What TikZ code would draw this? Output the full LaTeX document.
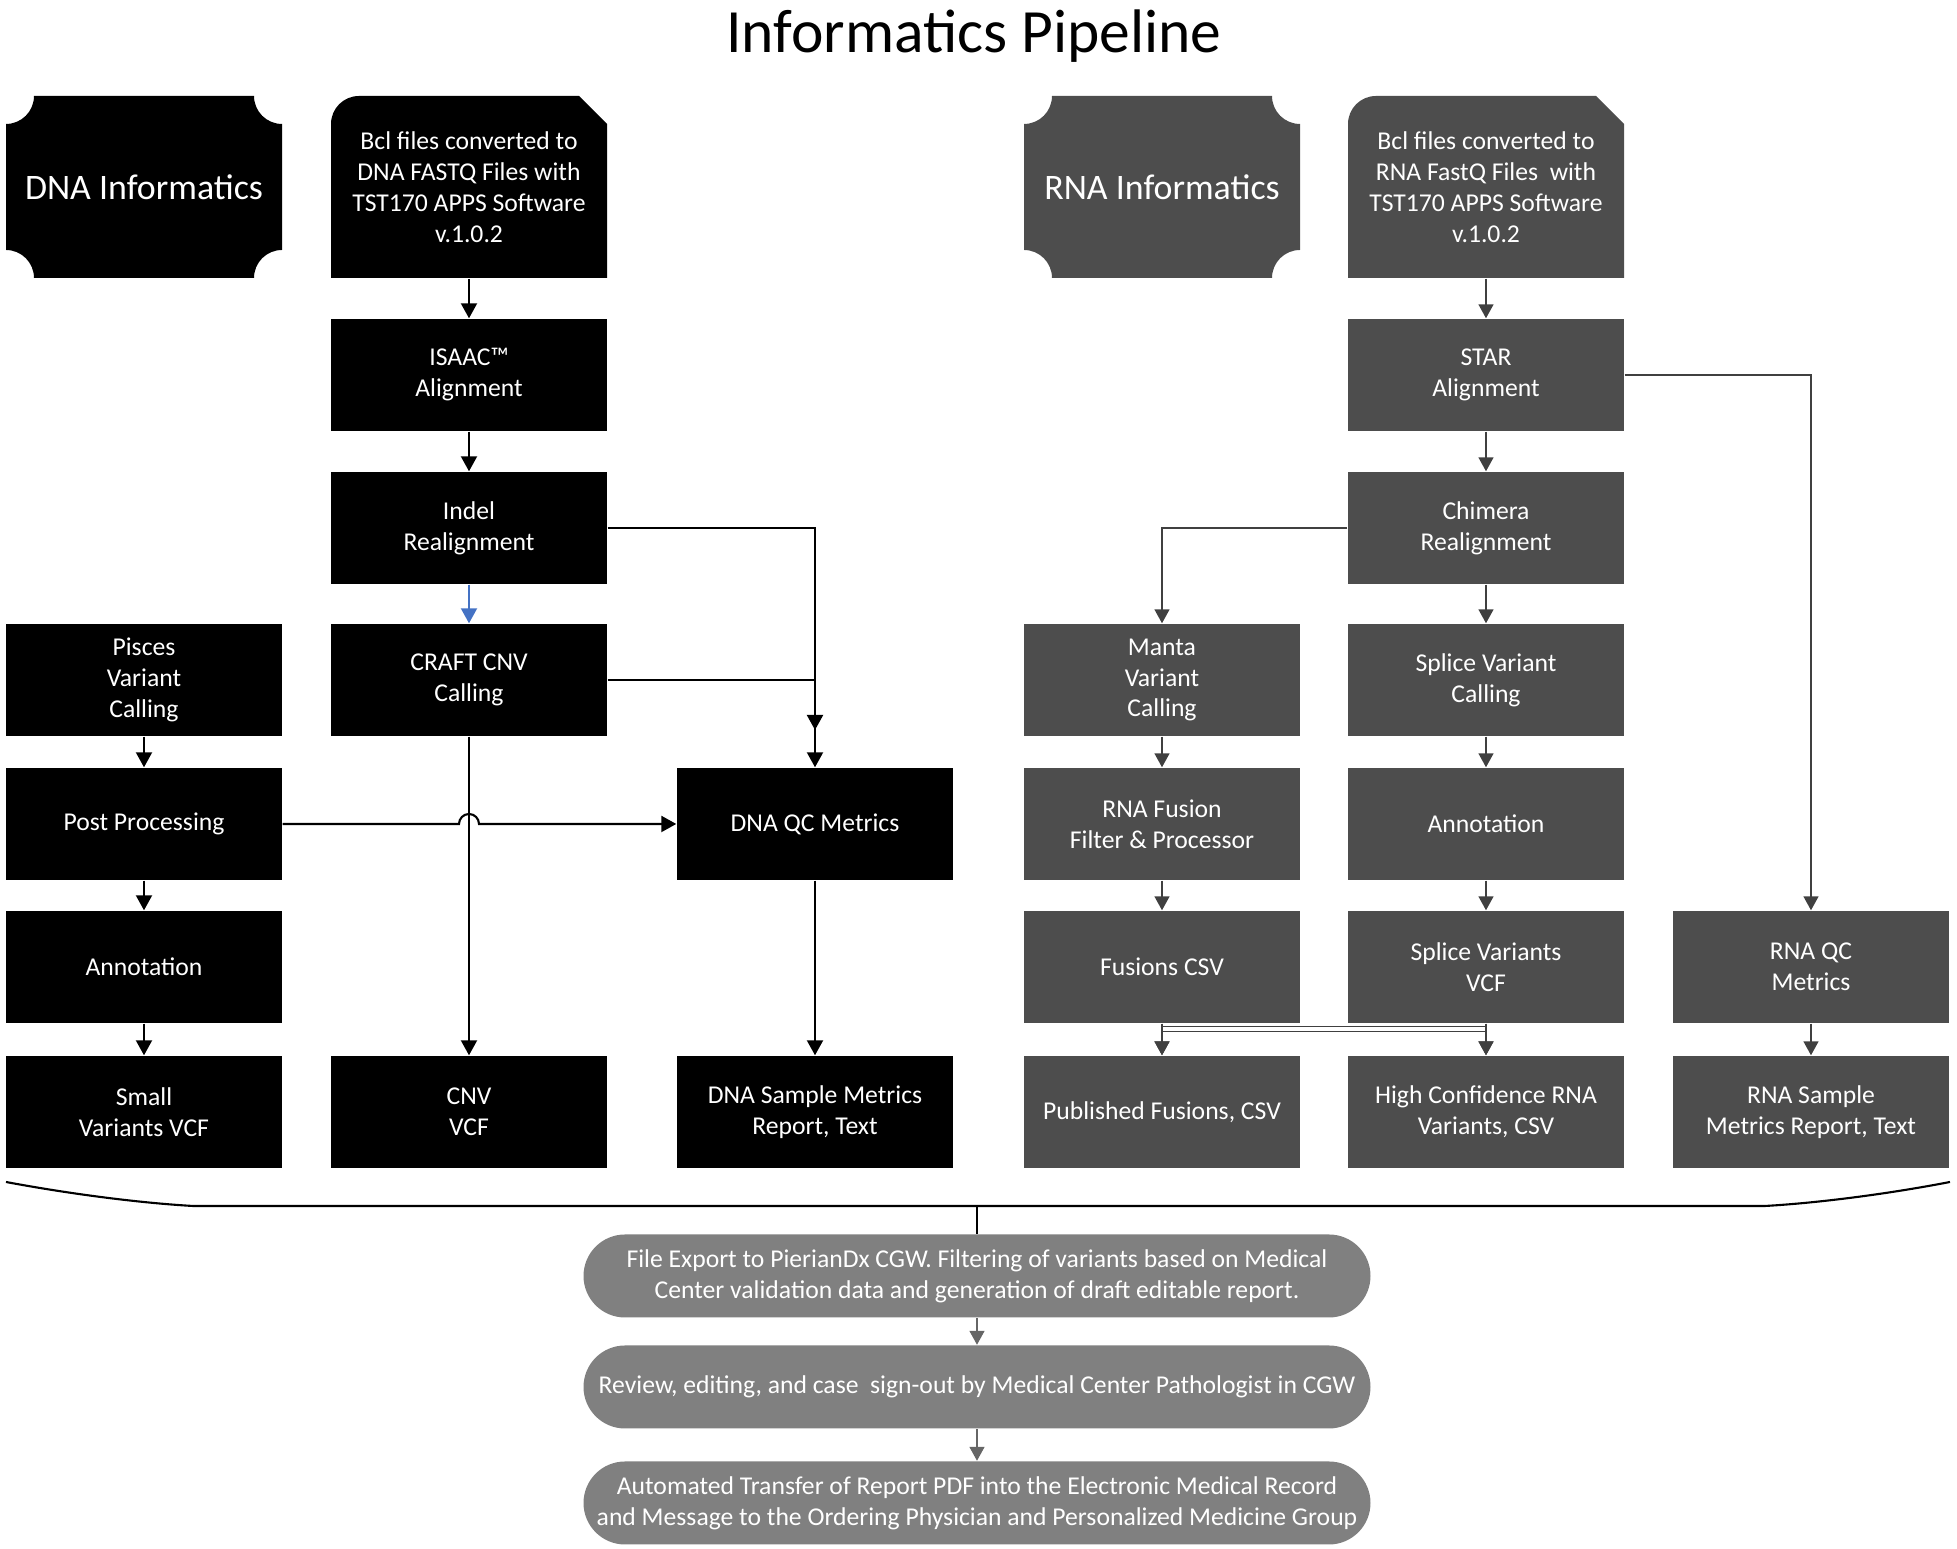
\documentclass[tikz,border=0pt]{standalone}
\usepackage{fontspec}
\setmainfont{Carlito}
\usetikzlibrary{arrows.meta,calc,shapes.misc}

\definecolor{rnagray}{HTML}{4D4D4D}
\definecolor{rnaline}{HTML}{404040}
\definecolor{pillgray}{HTML}{808080}
\definecolor{linkblue}{HTML}{4472C4}

% box with concave corners
\def\plaque[#1](#2,#3)(#4,#5){\fill[#1] (#2,#3+28) -- (#2,#5-28) arc[start angle=270,end angle=360,radius=28] -- (#4-28,#5) arc[start angle=180,end angle=270,radius=28] -- (#4,#3+28) arc[start angle=90,end angle=180,radius=28] -- (#2+28,#3) arc[start angle=0,end angle=90,radius=28] -- cycle;}
% box with one round and one snipped top corner
\def\snipbox[#1](#2,#3)(#4,#5){\fill[#1] (#2,#3) -- (#2,#5-28) arc[start angle=180,end angle=90,radius=28] -- (#4-28,#5) -- (#4,#5-28) -- (#4,#3) -- cycle;}

\tikzset{
  dnabox/.style={fill=black, text=white, minimum width=27.6mm, minimum height=11.2mm, inner sep=0pt, align=center, font=\fontsize{7.3}{8.8}\selectfont},
  rnabox/.style={dnabox, fill=rnagray},
  toptext/.style={text=white, minimum width=27.6mm, minimum height=18.2mm, inner sep=0pt, align=center, font=\fontsize{7.3}{8.8}\selectfont},
  headtext/.style={text=white, align=center, font=\fontsize{10.2}{12}\selectfont},
  pill/.style={rounded rectangle, fill=pillgray, text=white, minimum width=78.7mm, minimum height=8.3mm, inner sep=0pt, align=center, font=\fontsize{7.3}{8.8}\selectfont},
  dnalink/.style={draw=black, line width=0.6pt, -{Triangle[length=1.5mm,width=1.6mm]}},
  rnalink/.style={draw=rnaline, line width=0.45pt, -{Triangle[length=1.4mm,width=1.5mm]}},
  pipetitle/.style={font=\fontsize{17.5}{21}\selectfont},
}

\begin{document}
\begin{tikzpicture}[x=0.1mm,y=0.1mm]
	\useasboundingbox (0,0) rectangle (1957,1549);
	
	\node[pipetitle, anchor=base] (title) at (974,1496) {Informatics Pipeline};
	
	%%%%% DNA %%%%%
	\plaque[black](6,1271)(282,1453)
	\node[headtext] (dnahead) at (144,1362) {DNA Informatics};
	\snipbox[black](331,1271)(607,1453)
	\node[toptext] (dnabcl) at (469,1362) {Bcl files converted to\\DNA FASTQ Files with\\TST170 APPS Software\\v.1.0.2};
	
	\node[dnabox] (isaac) at (469,1174) {ISAAC™\\Alignment};
	\node[dnabox] (indel) at (469,1021) {Indel\\Realignment};
	\node[dnabox] (craft) at (469,869) {CRAFT CNV\\Calling};
	\node[dnabox] (pisces) at (144,869) {Pisces\\Variant\\Calling};
	\node[dnabox] (post) at (144,725) {Post Processing};
	\node[dnabox] (dannot) at (144,582) {Annotation};
	\node[dnabox] (small) at (144,437) {Small\\Variants VCF};
	\node[dnabox] (cnv) at (469,437) {CNV\\VCF};
	\node[dnabox] (qc) at (815,725) {DNA QC Metrics};
	\node[dnabox] (dsample) at (815,437) {DNA Sample Metrics\\Report, Text};
	\coordinate (indelend) at (815,819);
	
	\draw[dnalink] (dnabcl.south) -- (isaac.north);
	\draw[dnalink] (isaac.south) -- (indel.north);
	\draw[dnalink, draw=linkblue, fill=linkblue] (indel.south) -- (craft.north);
	\draw[dnalink] (indel.east) -| (indelend);
	\draw[dnalink] (craft.east) -| (qc.north);
	\draw[dnalink] (craft.south) -- (cnv.north);
	\draw[dnalink] (pisces.south) -- (post.north);
	\draw[dnalink] (post.south) -- (dannot.north);
	\draw[dnalink] (dannot.south) -- (small.north);
	\draw[dnalink] (post.east) -- ($(cnv.north |- post.east)+(-10,0)$) arc[start angle=180,end angle=0,radius=10] -- (qc.west);
	\draw[dnalink] (qc.south) -- (dsample.north);
	
	%%%%% RNA %%%%%
	\plaque[rnagray](1024,1271)(1300,1453)
	\node[headtext] (rnahead) at (1162,1362) {RNA Informatics};
	\snipbox[rnagray](1348,1271)(1624,1453)
	\node[toptext] (rnabcl) at (1486,1362) {Bcl files converted to\\RNA FastQ Files~ with\\TST170 APPS Software\\v.1.0.2};
	
	\node[rnabox] (star) at (1486,1174) {STAR\\Alignment};
	\node[rnabox] (chimera) at (1486,1021) {Chimera\\Realignment};
	\node[rnabox] (manta) at (1162,869) {Manta\\Variant\\Calling};
	\node[rnabox] (splice) at (1486,869) {Splice Variant\\Calling};
	\node[rnabox] (fusion) at (1162,725) {RNA Fusion\\Filter \& Processor};
	\node[rnabox] (rannot) at (1486,725) {Annotation};
	\node[rnabox] (fcsv) at (1162,582) {Fusions CSV};
	\node[rnabox] (svcf) at (1486,582) {Splice Variants\\VCF};
	\node[rnabox] (rnaqc) at (1811,582) {RNA QC\\Metrics};
	\node[rnabox] (published) at (1162,437) {Published Fusions, CSV};
	\node[rnabox] (highconf) at (1486,437) {High Confidence RNA\\Variants, CSV};
	\node[rnabox] (rsample) at (1811,437) {RNA Sample\\Metrics Report, Text};
	
	\draw[rnalink] (rnabcl.south) -- (star.north);
	\draw[rnalink] (star.south) -- (chimera.north);
	\draw[rnalink] (star.east) -| (rnaqc.north);
	\draw[rnalink] (chimera.west) -| (manta.north);
	\draw[rnalink] (chimera.south) -- (splice.north);
	\draw[rnalink] (manta.south) -- (fusion.north);
	\draw[rnalink] (fusion.south) -- (fcsv.north);
	\draw[rnalink] (splice.south) -- (rannot.north);
	\draw[rnalink] (rannot.south) -- (svcf.north);
	\draw[rnalink] (fcsv.south) -- (published.north);
	\draw[rnalink] (svcf.south) -- (highconf.north);
	\draw[rnalink] (fcsv.south) -- ++(0,-8) -| (highconf.north);
	\draw[rnalink] (svcf.south) -- ++(0,-3) -| (published.north);
	\draw[rnalink] (rnaqc.south) -- (rsample.north);
	
	%%%%% REPORTING %%%%%
	\draw[line width=0.6pt] (6,367) .. controls (70,355) and (140,346) .. (193,343) -- (1765,343) .. controls (1818,346) and (1888,355) .. (1950,367);
	\coordinate (bracetip) at (977,343);
	
	\node[pill] (export) at (977,273) {File Export to PierianDx CGW. Filtering of variants based on Medical\\Center validation data and generation of draft editable report.};
	\node[pill] (review) at (977,162) {Review, editing, and case~ sign-out by Medical Center Pathologist in CGW};
	\node[pill] (transfer) at (977,46) {Automated Transfer of Report PDF into the Electronic Medical Record\\and Message to the Ordering Physician and Personalized Medicine Group};
	
	\draw[line width=0.6pt] (bracetip) -- (export.north);
	\draw[rnalink, draw=pillgray!80!black, fill=pillgray!80!black] (export.south) -- (review.north);
	\draw[rnalink, draw=pillgray!80!black, fill=pillgray!80!black] (review.south) -- (transfer.north);
\end{tikzpicture}
\end{document}
